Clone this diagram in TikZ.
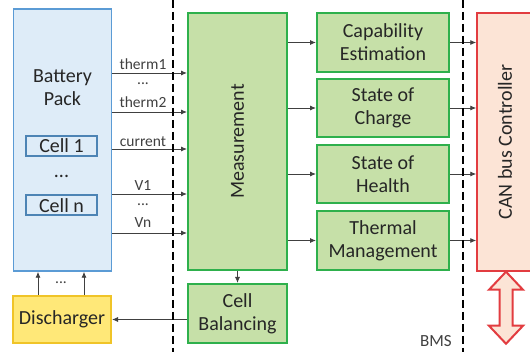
\documentclass[tikz,border=0pt]{standalone}
\usepackage{fontspec}
\setmainfont{Carlito}
\usetikzlibrary{arrows.meta}
\definecolor{packblue}{RGB}{91,155,213}
\definecolor{packfill}{RGB}{222,236,248}
\definecolor{bmsgreen}{RGB}{46,176,76}
\definecolor{bmsfill}{RGB}{198,224,168}
\definecolor{dischyellow}{RGB}{240,196,40}
\definecolor{dischfill}{RGB}{255,232,120}
\definecolor{canred}{RGB}{226,60,64}
\definecolor{canfill}{RGB}{252,228,214}
\definecolor{wiregray}{RGB}{64,64,64}

\begin{document}
\begin{tikzpicture}[
      x=1pt, y=-1pt,
      txt/.style={font=\fontsize{20}{23}\selectfont, align=center, text=black!85},
      sml/.style={font=\fontsize{15.5}{17}\selectfont, text=black!75, inner sep=0pt},
      packbox/.style={draw=packblue, fill=packfill, line width=1.5pt, inner sep=0pt},
      cellbox/.style={txt, draw=packblue!85!black, fill=packfill, line width=2pt, minimum width=71pt, minimum height=20pt, inner sep=0pt},
      blk/.style={txt, draw=bmsgreen, fill=bmsfill, line width=2pt, inner sep=0pt},
      dischbox/.style={txt, draw=dischyellow, fill=dischfill, line width=2pt, inner sep=0pt},
      canbox/.style={draw=canred, fill=canfill, line width=1.5pt, inner sep=0pt},
      sig/.style={wiregray, line width=0.9pt, -{Latex[length=6pt, width=5pt]}},
      border/.style={black, line width=2.5pt, dash pattern=on 8pt off 4pt}
    ]
      \path[use as bounding box, fill=white] (0,0) rectangle (530,352);

      % Battery Pack
      \node[packbox, minimum width=98pt, minimum height=262pt] (pack) at (62.5,140) {};
      \node[txt] (packlbl) at (62.5,88) {Battery\\Pack};
      \node[cellbox] (cell1) at (61.5,146) {Cell 1};
      \node[txt] (celldots) at (61.5,176) {...};
      \node[cellbox] (celln) at (61.5,205.5) {Cell n};

      % Discharger
      \node[dischbox, minimum width=98pt, minimum height=47pt] (disch) at (62,319.5) {Discharger};

      % Measurement and Cell Balancing
      \node[blk, minimum width=99pt, minimum height=257pt] (meas) at (237.5,141.5) {};
      \node[txt, rotate=90] (measlbl) at (meas) {Measurement};
      \node[blk, minimum width=99pt, minimum height=59pt] (cellbal) at (237.5,313.5) {Cell\\Balancing};

      % Estimators
      \node[blk, minimum width=132pt, minimum height=59pt] (cap) at (383,42.5) {Capability\\Estimation};
      \node[blk, minimum width=132pt, minimum height=58pt] (soc) at (383,108) {State of\\Charge};
      \node[blk, minimum width=132pt, minimum height=58pt] (soh) at (383,174) {State of\\Health};
      \node[blk, minimum width=132pt, minimum height=59pt] (therm) at (383,240.5) {Thermal\\Management};

      % CAN bus
      \node[canbox, minimum width=58pt, minimum height=258pt] (can) at (506,142) {};
      \node[txt, rotate=90] (canlbl) at (505,142) {CAN bus Controller};
      \draw[canred, fill=canfill, line width=2pt, line join=miter] (can.south) -- ++(17,18) -- ++(-10.5,0) -- ++(0,36)
        -- ++(10.5,0) -- ++(-17,18) -- ++(-17,-18) -- ++(10.5,0) -- ++(0,-36) -- ++(-10.5,0) -- cycle;

      % signals
      \foreach \y [count=\i] in {73,112,149,194,233} {
        \coordinate (sig\i) at (0,\y);
        \draw[sig] (pack.east |- sig\i) -- (meas.west |- sig\i);
      }
      \node[sml] (t1lbl) at (143,64) {therm1};
      \node[sml] (t1dots) at (143,84) {...};
      \node[sml] (t2lbl) at (143,102) {therm2};
      \node[sml] (curlbl) at (143,142) {current};
      \node[sml] (v1lbl) at (143,186) {V1};
      \node[sml] (vdots) at (143,205) {...};
      \node[sml] (vnlbl) at (143,223) {Vn};

      \draw[sig] (meas.south) -- (cellbal.north);
      \draw[sig] (cellbal.west |- disch.east) -- (disch.east);
      \coordinate (up1) at (38,0);
      \coordinate (up2) at (84,0);
      \draw[sig] (disch.north -| up1) -- (pack.south -| up1);
      \draw[sig] (disch.north -| up2) -- (pack.south -| up2);
      \node[sml] (updots) at (61,283) {...};

      \foreach \b in {cap,soc,soh,therm} {
        \draw[sig] (meas.east |- \b.west) -- (\b.west);
        \draw[sig] (\b.east) -- (can.west |- \b.east);
      }

      % BMS border
      \coordinate (d1top) at (173,0);
      \coordinate (d1bot) at (173,352);
      \coordinate (d2top) at (463,0);
      \coordinate (d2bot) at (463,352);
      \draw[border] (d1top) -- (d1bot);
      \draw[border] (d2top) -- (d2bot);
      \node[sml, font=\fontsize{17}{19}\selectfont, anchor=east] (bms) at (452,341) {BMS};
    \end{tikzpicture}
\end{document}
